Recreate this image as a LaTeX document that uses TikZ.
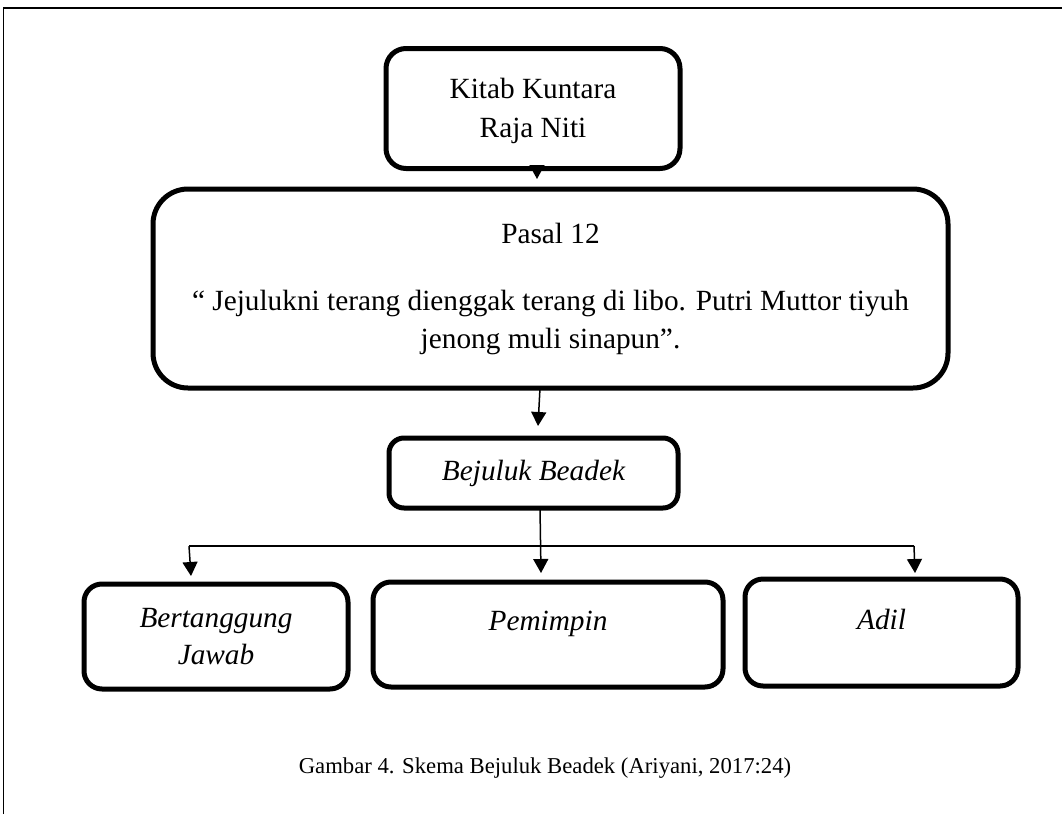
\documentclass[tikz,border=0pt]{standalone}
\usepackage{fontspec}
\setmainfont{Liberation Serif}
\usetikzlibrary{arrows.meta}
\begin{document}
\begin{tikzpicture}[x=1pt,y=-1pt,
  box/.style={draw, line width=5pt, rounded corners=#1, align=center,
    inner sep=0pt, font=\fontsize{29.3}{37.5}\selectfont},
  box/.default=18pt,
  wire/.style={line width=1.5pt},
  conn/.style={wire, -{Triangle[width=15pt,length=14pt]}},
  frame/.style={line width=1.5pt}]
\useasboundingbox (0,0) rectangle (1062,814);

% page frame (top and left edges)
\draw[frame] (3.5,814) -- (3.5,8) -- (1062,8);

% boxes
\node[box=20pt, minimum width=294pt, minimum height=120pt] (kitab) at (533,108.5)
  {\rule{0pt}{25pt}Kitab Kuntara\\[1.5pt]Raja Niti};
\node[box=35pt, minimum width=795pt, minimum height=199pt] (pasal) at (550.5,288.5)
  {Pasal 12\\[30pt]“ Jejulukni terang dienggak terang di libo. Putri Muttor tiyuh\\jenong muli sinapun”.};
\node[box=15pt, minimum width=289pt, minimum height=70pt] (bejuluk) at (533.5,473)
  {\itshape Bejuluk Beadek};
\node[box=18pt, minimum width=264pt, minimum height=105pt] (tanggung) at (216,636.5)
  {\itshape Bertanggung\\\itshape Jawab};
\node[box=18pt, minimum width=350pt, minimum height=105pt] (pimpin) at (548,634.5)
  {\itshape Pemimpin\\[-10pt]\mbox{}};
\node[box=18pt, minimum width=273pt, minimum height=107pt] (adil) at (881.5,632.5)
  {\itshape Adil\\[-12pt]\mbox{}};

% connector end points
\coordinate (t1) at (537,179);
\coordinate (s2) at (540,388);
\coordinate (t2) at (538,426);
\coordinate (s3) at (540,508);
\coordinate (t3) at (541,573);
\coordinate (hl) at (189,546);
\coordinate (hr) at (914,546);
\coordinate (tl) at (191,576);
\coordinate (tr) at (915,573);

% connectors
\draw[conn] (kitab.south -| t1) -- (t1);
\draw[conn] (s2) -- (t2);
\draw[conn] (s3) -- (t3);
\draw[wire] (hl) -- (hr);
\draw[conn] (hl) -- (tl);
\draw[conn] (hr) -- (tr);

% caption
\node[font=\fontsize{22.7}{27}\selectfont] (cap) at (545,768)
  {Gambar 4. Skema Bejuluk Beadek (Ariyani, 2017:24)};
\end{tikzpicture}
\end{document}
